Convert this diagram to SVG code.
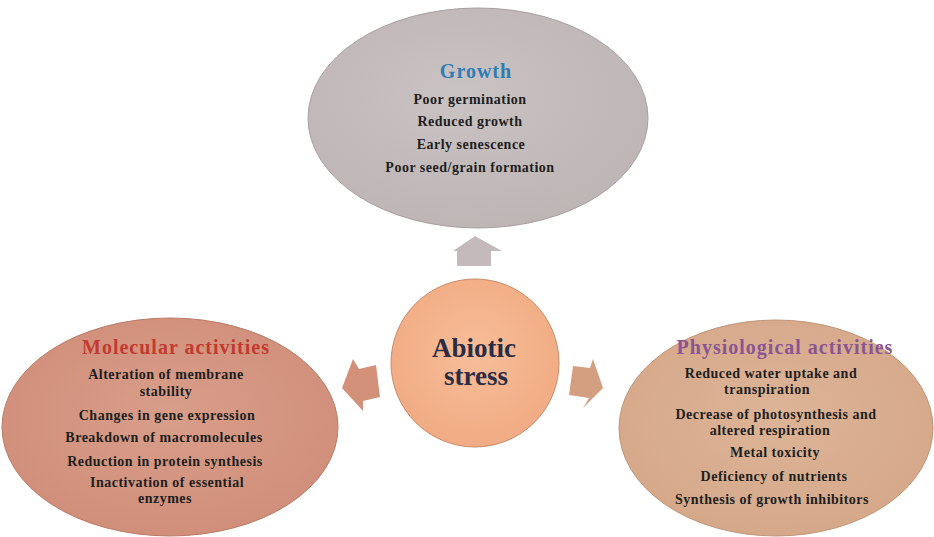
<svg xmlns="http://www.w3.org/2000/svg" width="934" height="537" viewBox="0 0 934 537">
<style>
  text { font-family: "Liberation Serif", "Times New Roman", serif; font-weight: bold; text-anchor: middle; }
  .body { font-size: 14px; letter-spacing: 0.5px; fill: #1e1e1e; }
  .title { font-size: 20px; letter-spacing: 1px; }
  .center { font-size: 27px; fill: #2b2d44; }
  .arrow { stroke: none; }
</style>
<defs>
  <radialGradient id="gGray" cx="45%" cy="40%" r="65%">
    <stop offset="0" stop-color="#cac3c3"/>
    <stop offset="1" stop-color="#bdb4b4"/>
  </radialGradient>
  <radialGradient id="gSalmon" cx="50%" cy="45%" r="65%">
    <stop offset="0" stop-color="#d89e8a"/>
    <stop offset="1" stop-color="#cf8c77"/>
  </radialGradient>
  <radialGradient id="gTan" cx="50%" cy="45%" r="65%">
    <stop offset="0" stop-color="#ddb497"/>
    <stop offset="1" stop-color="#d4a687"/>
  </radialGradient>
  <radialGradient id="gPeach" cx="50%" cy="45%" r="60%">
    <stop offset="0" stop-color="#f7bd98"/>
    <stop offset="1" stop-color="#f0aa82"/>
  </radialGradient>
</defs>
<rect width="934" height="537" fill="#ffffff"/>

<g id="connectors">
  <polygon class="arrow" fill="#c4babc" points="475,236 502,251 491,251 491,266 457,266 457,251 453,251"/>
  <polygon class="arrow" fill="#d4917a" points="342,388 353,359 359,369 376,365 380,397 363,401 363,411"/>
  <polygon class="arrow" fill="#d49f80" points="603,388 583,408 589,398 569,395 573,366 590,368 593,359"/>
</g>

<g id="node-growth">
  <ellipse cx="478" cy="118" rx="170" ry="110" fill="url(#gGray)" stroke="#a8a0a0" stroke-width="1"/>
  <text class="title" x="476" y="78" fill="#2f7db5">Growth</text>
  <text class="body" x="470" y="104">Poor germination</text>
  <text class="body" x="470" y="126">Reduced growth</text>
  <text class="body" x="471" y="149">Early senescence</text>
  <text class="body" x="470" y="172">Poor seed/grain formation</text>
</g>

<g id="node-abiotic">
  <circle cx="475" cy="363" r="84" fill="url(#gPeach)" stroke="#c98a68" stroke-width="1"/>
  <text class="center" x="474" y="357">Abiotic</text>
  <text class="center" x="476" y="385">stress</text>
</g>

<g id="node-molecular">
  <ellipse cx="170" cy="427" rx="168" ry="109" fill="url(#gSalmon)" stroke="#b97a66" stroke-width="1"/>
  <text class="title" x="176" y="354" fill="#c23a30">Molecular activities</text>
  <text class="body" x="166" y="379">Alteration of membrane</text>
  <text class="body" x="166" y="396">stability</text>
  <text class="body" x="167" y="420">Changes in gene expression</text>
  <text class="body" x="164" y="442">Breakdown of macromolecules</text>
  <text class="body" x="165" y="466">Reduction in protein synthesis</text>
  <text class="body" x="167" y="487">Inactivation of essential</text>
  <text class="body" x="165" y="503">enzymes</text>
</g>

<g id="node-physiological">
  <ellipse cx="776" cy="428" rx="157" ry="108" fill="url(#gTan)" stroke="#bf9478" stroke-width="1"/>
  <text class="title" x="785" y="354" fill="#8a5592">Physiological activities</text>
  <text class="body" x="771" y="378">Reduced water uptake and</text>
  <text class="body" x="767" y="394">transpiration</text>
  <text class="body" x="776" y="419">Decrease of photosynthesis  and</text>
  <text class="body" x="770" y="435">altered respiration</text>
  <text class="body" x="775" y="457">Metal toxicity</text>
  <text class="body" x="774" y="481">Deficiency of nutrients</text>
  <text class="body" x="772" y="504">Synthesis of growth inhibitors</text>
</g>
</svg>
